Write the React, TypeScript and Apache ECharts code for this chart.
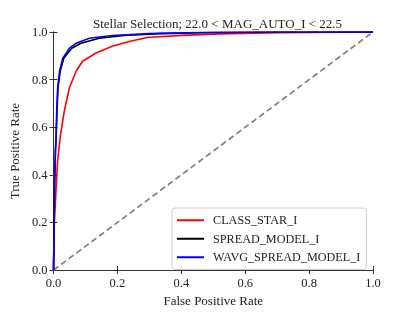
import React, { useEffect, useRef } from "react";
import * as echarts from "echarts";

const titleText = "Stellar Selection; 22.0 < MAG_AUTO_I < 22.5";
const seriesNames = ["CLASS_STAR_I", "SPREAD_MODEL_I", "WAVG_SPREAD_MODEL_I"];

const fprClassStar = [0, 0.002, 0.005, 0.007, 0.0125, 0.022, 0.034, 0.05, 0.071, 0.091, 0.133, 0.184, 0.237, 0.293, 0.4, 0.52, 0.7, 1];
const tprClassStar = [0, 0.18, 0.26, 0.316, 0.455, 0.57, 0.67, 0.767, 0.836, 0.877, 0.912, 0.94, 0.96, 0.977, 0.986, 0.992, 0.997, 1];

const fprSpread = [0, 0.001, 0.003, 0.006, 0.008, 0.011, 0.014, 0.021, 0.032, 0.057, 0.086, 0.143, 0.22, 0.33, 0.5, 0.7, 1];
const tprSpread = [0, 0.1, 0.35, 0.5, 0.558, 0.67, 0.767, 0.836, 0.89, 0.932, 0.953, 0.974, 0.985, 0.993, 0.998, 1, 1];

const fprWavg = [0, 0.001, 0.003, 0.006, 0.008, 0.01, 0.013, 0.019, 0.029, 0.05, 0.071, 0.112, 0.184, 0.3, 0.45, 0.7, 1];
const tprWavg = [0, 0.1, 0.35, 0.5, 0.558, 0.67, 0.767, 0.836, 0.89, 0.932, 0.953, 0.974, 0.985, 0.993, 0.998, 1, 1];

const diagonal = [0, 1];

const zip = (a: number[], b: number[]) => a.map((v, i) => [v, b[i]]);

const FONT = "'Liberation Serif', 'DejaVu Serif', serif";
const AX = "#333";
const TXT = "#222";

export default function App() {
  const ref = useRef<HTMLDivElement>(null);
  useEffect(() => {
    if (!ref.current) return;
    const chart = echarts.init(ref.current, undefined, { renderer: "svg" });
    const baseAxis = {
      type: "value" as const,
      min: 0,
      max: 1,
      interval: 0.2,
      splitLine: { show: false },
      axisLine: { show: true, lineStyle: { color: AX, width: 1 } },
      axisTick: { show: true, inside: true, length: 4, lineStyle: { color: AX } },
    };
    const label = { show: true, margin: 6, fontFamily: FONT, fontSize: 12.5, color: TXT, formatter: (v: number) => v.toFixed(1) };
    chart.setOption({
      animation: false,
      textStyle: { fontFamily: FONT },
      title: {
        text: titleText,
        left: 212.5,
        textAlign: "center",
        top: 12,
        textStyle: { fontFamily: FONT, fontSize: 13, fontWeight: "normal", color: TXT },
      },
      grid: { left: 52, right: 42, top: 32, bottom: 40 },
      legend: {
        data: seriesNames,
        orient: "vertical",
        left: 172,
        top: 208,
        padding: [5, 6, 5, 5],
        itemGap: 4,
        itemWidth: 27,
        itemHeight: 2,
        icon: "rect",
        borderColor: "#ccc",
        borderWidth: 1,
        borderRadius: 3,
        backgroundColor: "#fff",
        textStyle: { fontFamily: FONT, fontSize: 12.2, color: TXT, lineHeight: 14.5, padding: [0, 0, 0, 4] },
      },
      xAxis: [
        {
          ...baseAxis,
          position: "bottom",
          name: "False Positive Rate",
          nameLocation: "middle",
          nameGap: 22,
          nameTextStyle: { fontFamily: FONT, fontSize: 13, color: TXT },
          axisLabel: label,
        },
        { ...baseAxis, position: "top", axisLabel: { show: false } },
      ],
      yAxis: [
        {
          ...baseAxis,
          position: "left",
          name: "True Positive Rate",
          nameLocation: "middle",
          nameGap: 23,
          nameTextStyle: { fontFamily: FONT, fontSize: 13, color: TXT },
          axisLabel: label,
        },
        { ...baseAxis, position: "right", axisLabel: { show: false } },
      ],
      series: [
        {
          name: "diag",
          type: "line",
          data: zip(diagonal, diagonal),
          symbol: "none",
          lineStyle: { color: "#808080", width: 1.7, type: [6, 3.5] },
          z: 1,
        },
        {
          name: seriesNames[0],
          type: "line",
          data: zip(fprClassStar, tprClassStar),
          symbol: "none",
          lineStyle: { color: "#ff0000", width: 1.6 },
          itemStyle: { color: "#ff0000" },
          z: 2,
        },
        {
          name: seriesNames[1],
          type: "line",
          data: zip(fprSpread, tprSpread),
          symbol: "none",
          lineStyle: { color: "#000000", width: 1.6 },
          itemStyle: { color: "#000000" },
          z: 3,
        },
        {
          name: seriesNames[2],
          type: "line",
          data: zip(fprWavg, tprWavg),
          symbol: "none",
          lineStyle: { color: "#0000ff", width: 1.6 },
          itemStyle: { color: "#0000ff" },
          z: 4,
        },
      ],
    });
    return () => chart.dispose();
  }, []);
  return <div ref={ref} style={{ position: "fixed", left: 0, top: 0, width: 415, height: 312 }} />;
}
